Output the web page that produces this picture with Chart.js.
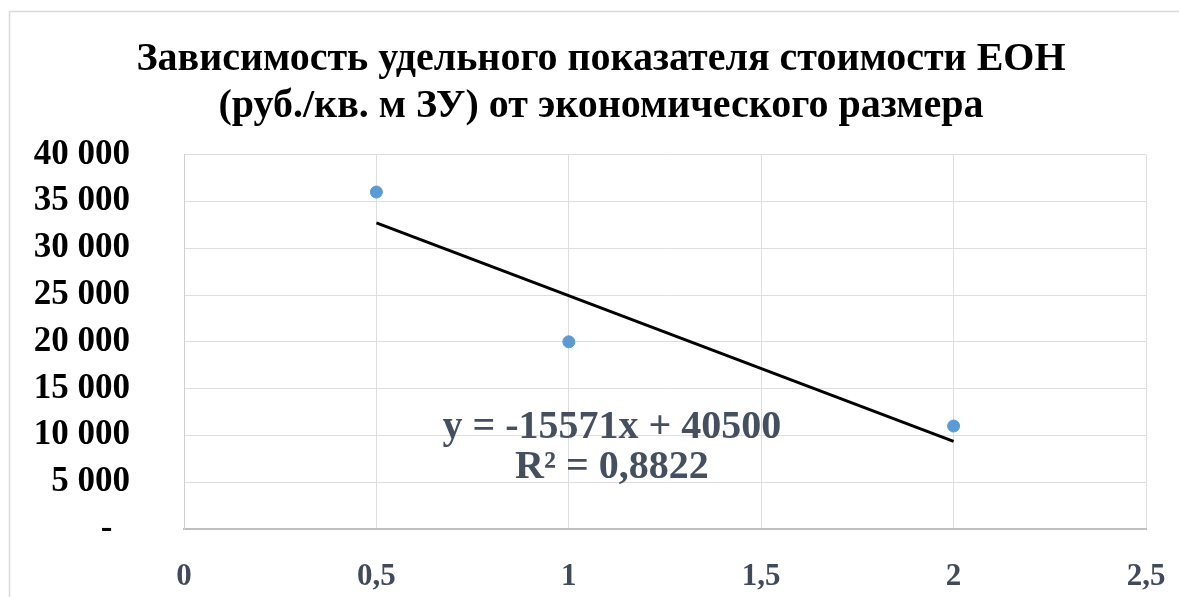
<!DOCTYPE html>
<html>
<head>
<meta charset="utf-8">
<script src="https://cdn.jsdelivr.net/npm/chart.js@4.4.1/dist/chart.umd.min.js"></script>
<style>
    html, body { margin: 0; padding: 0; background: #fff; }
    #wrap { width: 1179px; height: 597px; position: relative; }
</style>
</head>
<body>
<div id="wrap"><canvas id="grafico" width="1179" height="597"></canvas></div>
<script>
// Dados
const tamanhos = [0.5, 1, 2];
const custos = [36000, 20000, 11000];

// Linha de tendência (do rótulo da equação)
const inclinacao = -15571;
const intercepto = 40500;
const textoEquacao = ["y = -15571x + 40500", "R² = 0,8822"];

const titulo = [
    "Зависимость удельного показателя стоимости ЕОН",
    "(руб./кв. м ЗУ) от экономического размера"
];

const fonte = "'Liberation Serif', 'Times New Roman', serif";

const pontos = tamanhos.map((x, i) => ({ x: x, y: custos[i] }));
const xMin = tamanhos[0];
const xMax = tamanhos[tamanhos.length - 1];
const tendencia = [
    { x: xMin, y: inclinacao * xMin + intercepto },
    { x: xMax, y: inclinacao * xMax + intercepto }
];

// Moldura da área do gráfico (estilo Excel)
const moldura = {
    id: "moldura",
    beforeDraw(chart) {
        const ctx = chart.ctx;
        ctx.save();
        ctx.strokeStyle = "#d9d9d9";
        ctx.lineWidth = 1.5;
        ctx.strokeRect(9.5, 11.5, 1300, 700);
        ctx.restore();
    }
};

// Rótulo da equação da tendência
const rotuloEquacao = {
    id: "rotuloEquacao",
    afterDatasetsDraw(chart) {
        const ctx = chart.ctx;
        const sx = chart.scales.x;
        const sy = chart.scales.y;
        const cx = sx.getPixelForValue(1.112);
        const cy = sy.getPixelForValue(10800);
        ctx.save();
        ctx.font = "bold 40px " + fonte;
        ctx.fillStyle = "#44505f";
        ctx.textAlign = "center";
        ctx.textBaseline = "middle";
        ctx.fillText(textoEquacao[0], cx, cy);
        ctx.fillText(textoEquacao[1], cx, cy + 40);
        ctx.restore();
    }
};

new Chart(document.getElementById("grafico").getContext("2d"), {
    type: "scatter",
    data: {
        datasets: [
            {
                label: "Стоимость",
                data: pontos,
                backgroundColor: "#5b9bd5",
                borderColor: "#5b9bd5",
                pointRadius: 6,
                order: 1
            },
            {
                label: "Линейная",
                type: "line",
                data: tendencia,
                borderColor: "#000000",
                borderWidth: 3,
                pointRadius: 0,
                fill: false,
                order: 2
            }
        ]
    },
    options: {
        responsive: false,
        animation: false,
        layout: { padding: { top: 36, left: 23, right: 0, bottom: 0 } },
        plugins: {
            legend: { display: false },
            tooltip: { enabled: false },
            title: {
                display: true,
                text: titulo,
                color: "#000",
                font: { family: fonte, size: 40, weight: "bold", lineHeight: 1.17 },
                padding: { top: 0, bottom: 25 }
            }
        },
        scales: {
            x: {
                type: "linear",
                min: 0,
                max: 2.5,
                border: { display: true, color: "#bfbfbf", width: 2 },
                grid: { color: "#dedede", lineWidth: 1, drawTicks: false },
                ticks: {
                    stepSize: 0.5,
                    padding: 29,
                    color: "#404a5a",
                    font: { family: fonte, size: 31, weight: "bold" },
                    callback: (v) => String(v).replace(".", ",")
                },
                afterFit: (scale) => {
                    scale.height = 68;
                    scale.paddingLeft = 0;
                    scale.paddingRight = 33;
                }
            },
            y: {
                min: 0,
                max: 40000,
                border: { display: true, color: "#d0d0d0", width: 1 },
                grid: { color: "#dedede", lineWidth: 1, drawTicks: false },
                ticks: {
                    stepSize: 5000,
                    padding: 54,
                    color: "#000",
                    font: { family: fonte, size: 35, weight: "bold" },
                    callback: (v) => v === 0 ? "-  " : v.toLocaleString("ru-RU").replace(/\s/g, "\u00a0")
                },
                afterFit: (scale) => {
                    scale.width = 161;
                    scale.paddingTop = 0;
                    scale.paddingBottom = 0;
                }
            }
        }
    },
    plugins: [moldura, rotuloEquacao]
});
</script>
</body>
</html>
